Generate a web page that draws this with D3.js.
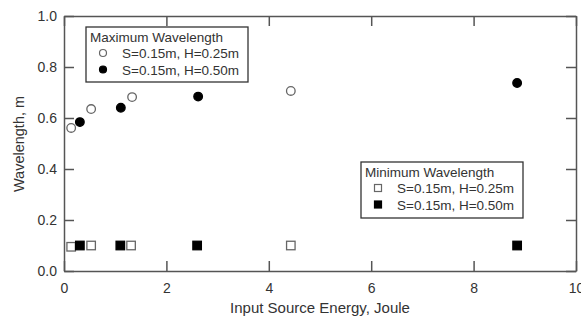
<!DOCTYPE html>
<html>
<head>
<meta charset="utf-8">
<script src="https://cdn.jsdelivr.net/npm/d3@7"></script>
<style>
  body { margin: 0; background: #fff; }
  svg { font-family: "Liberation Sans", Arial, sans-serif; }
  .axis path, .axis line { stroke: #555; stroke-width: 1.5; }
  .axis text { fill: #333; font-size: 14px; }
</style>
</head>
<body>
<div id="chart"></div>
<script>
// data
var maxEnergy025 = [0.14, 0.53, 1.33, 4.43];
var maxWave025 = [0.561, 0.635, 0.682, 0.706];
var maxEnergy050 = [0.31, 1.11, 2.62, 8.85];
var maxWave050 = [0.584, 0.640, 0.684, 0.737];
var minEnergy025 = [0.14, 0.53, 1.31, 4.43];
var minWave025 = [0.095, 0.10, 0.10, 0.10];
var minEnergy050 = [0.31, 1.10, 2.60, 8.85];
var minWave050 = [0.10, 0.10, 0.10, 0.10];
var xTicks = [0, 2, 4, 6, 8, 10];
var yTicks = [0.0, 0.2, 0.4, 0.6, 0.8, 1.0];

var svgWidth = 581;
var svgHeight = 320;
var margin = {top: 16, right: 5, bottom: 49, left: 64};
var chartWidth = svgWidth - margin.left - margin.right;
var chartHeight = svgHeight - margin.top - margin.bottom;

var svg = d3.select("#chart").append("svg")
    .attr("width", svgWidth)
    .attr("height", svgHeight);

var chartGroup = svg.append("g")
    .attr("transform", `translate(${margin.left},${margin.top})`);

var xScale = d3.scaleLinear().domain([0, 10]).range([0, chartWidth]);
var yScale = d3.scaleLinear().domain([0, 1]).range([chartHeight, 0]);

// axes, ticks pointing inward on all four sides
chartGroup.append("g").attr("class", "axis")
    .attr("transform", `translate(0,${chartHeight})`)
    .call(d3.axisBottom(xScale).tickValues(xTicks).tickSize(-10).tickSizeOuter(0).tickPadding(12).tickFormat(d3.format("d")));

chartGroup.append("g").attr("class", "axis")
    .call(d3.axisLeft(yScale).tickValues(yTicks).tickSize(-10).tickSizeOuter(0).tickPadding(7).tickFormat(d3.format(".1f")));

chartGroup.append("g").attr("class", "axis")
    .call(d3.axisTop(xScale).tickValues(xTicks).tickSize(-10).tickSizeOuter(0).tickFormat(""));

chartGroup.append("g").attr("class", "axis")
    .attr("transform", `translate(${chartWidth},0)`)
    .call(d3.axisRight(yScale).tickValues(yTicks).tickSize(-10).tickSizeOuter(0).tickFormat(""));

// axis titles
svg.append("text")
    .attr("x", 320)
    .attr("y", 313)
    .attr("text-anchor", "middle")
    .attr("font-size", "15px")
    .attr("fill", "#333")
    .text("Input Source Energy, Joule");

svg.append("text")
    .attr("transform", "translate(23.5,144)rotate(-90)")
    .attr("text-anchor", "middle")
    .attr("font-size", "14.5px")
    .attr("fill", "#333")
    .text("Wavelength, m");

function pairs(xs, ys) {
    return xs.map((x, i) => ({x: x, y: ys[i]}));
}

function drawCircles(data, filled) {
    chartGroup.append("g").selectAll("circle")
        .data(data)
        .enter()
        .append("circle")
        .attr("cx", d => xScale(d.x))
        .attr("cy", d => yScale(d.y))
        .attr("r", 4.3)
        .attr("fill", filled ? "#000" : "#fff")
        .attr("stroke", filled ? "#000" : "#666")
        .attr("stroke-width", 1.3);
}

function drawSquares(data, filled) {
    var s = 8.5;
    chartGroup.append("g").selectAll("rect")
        .data(data)
        .enter()
        .append("rect")
        .attr("x", d => xScale(d.x) - s / 2)
        .attr("y", d => yScale(d.y) - s / 2)
        .attr("width", s)
        .attr("height", s)
        .attr("fill", filled ? "#000" : "#fff")
        .attr("stroke", filled ? "#000" : "#666")
        .attr("stroke-width", 1.3);
}

drawCircles(pairs(maxEnergy025, maxWave025), false);
drawCircles(pairs(maxEnergy050, maxWave050), true);
drawSquares(pairs(minEnergy025, minWave025), false);
drawSquares(pairs(minEnergy050, minWave050), true);

// legends
function legend(x, y, w, h, title, labels, shape) {
    var g = svg.append("g").attr("transform", `translate(${x},${y})`);
    g.append("rect")
        .attr("width", w).attr("height", h)
        .attr("fill", "#fff")
        .attr("stroke", "#333")
        .attr("stroke-width", 1.3);
    g.append("text")
        .attr("x", 4).attr("y", 15)
        .attr("font-size", "13.5px").attr("fill", "#333")
        .text(title);
    labels.forEach(function(lab, i) {
        var cy = 26 + i * 16.5;
        if (shape === "circle") {
            g.append("circle")
                .attr("cx", 17).attr("cy", cy).attr("r", 3.5)
                .attr("fill", i ? "#000" : "#fff")
                .attr("stroke", i ? "#000" : "#666").attr("stroke-width", 1.2);
        } else {
            g.append("rect")
                .attr("x", 13.5).attr("y", cy - 3.5).attr("width", 7).attr("height", 7)
                .attr("fill", i ? "#000" : "#fff")
                .attr("stroke", i ? "#000" : "#666").attr("stroke-width", 1.2);
        }
        g.append("text")
            .attr("x", 36).attr("y", cy + 5)
            .attr("font-size", "13.5px").attr("fill", "#333")
            .text(lab);
    });
}

legend(86, 27, 162, 55, "Maximum Wavelength", ["S=0.15m, H=0.25m", "S=0.15m, H=0.50m"], "circle");
legend(361, 162, 162, 56, "Minimum Wavelength", ["S=0.15m, H=0.25m", "S=0.15m, H=0.50m"], "square");
</script>
</body>
</html>
